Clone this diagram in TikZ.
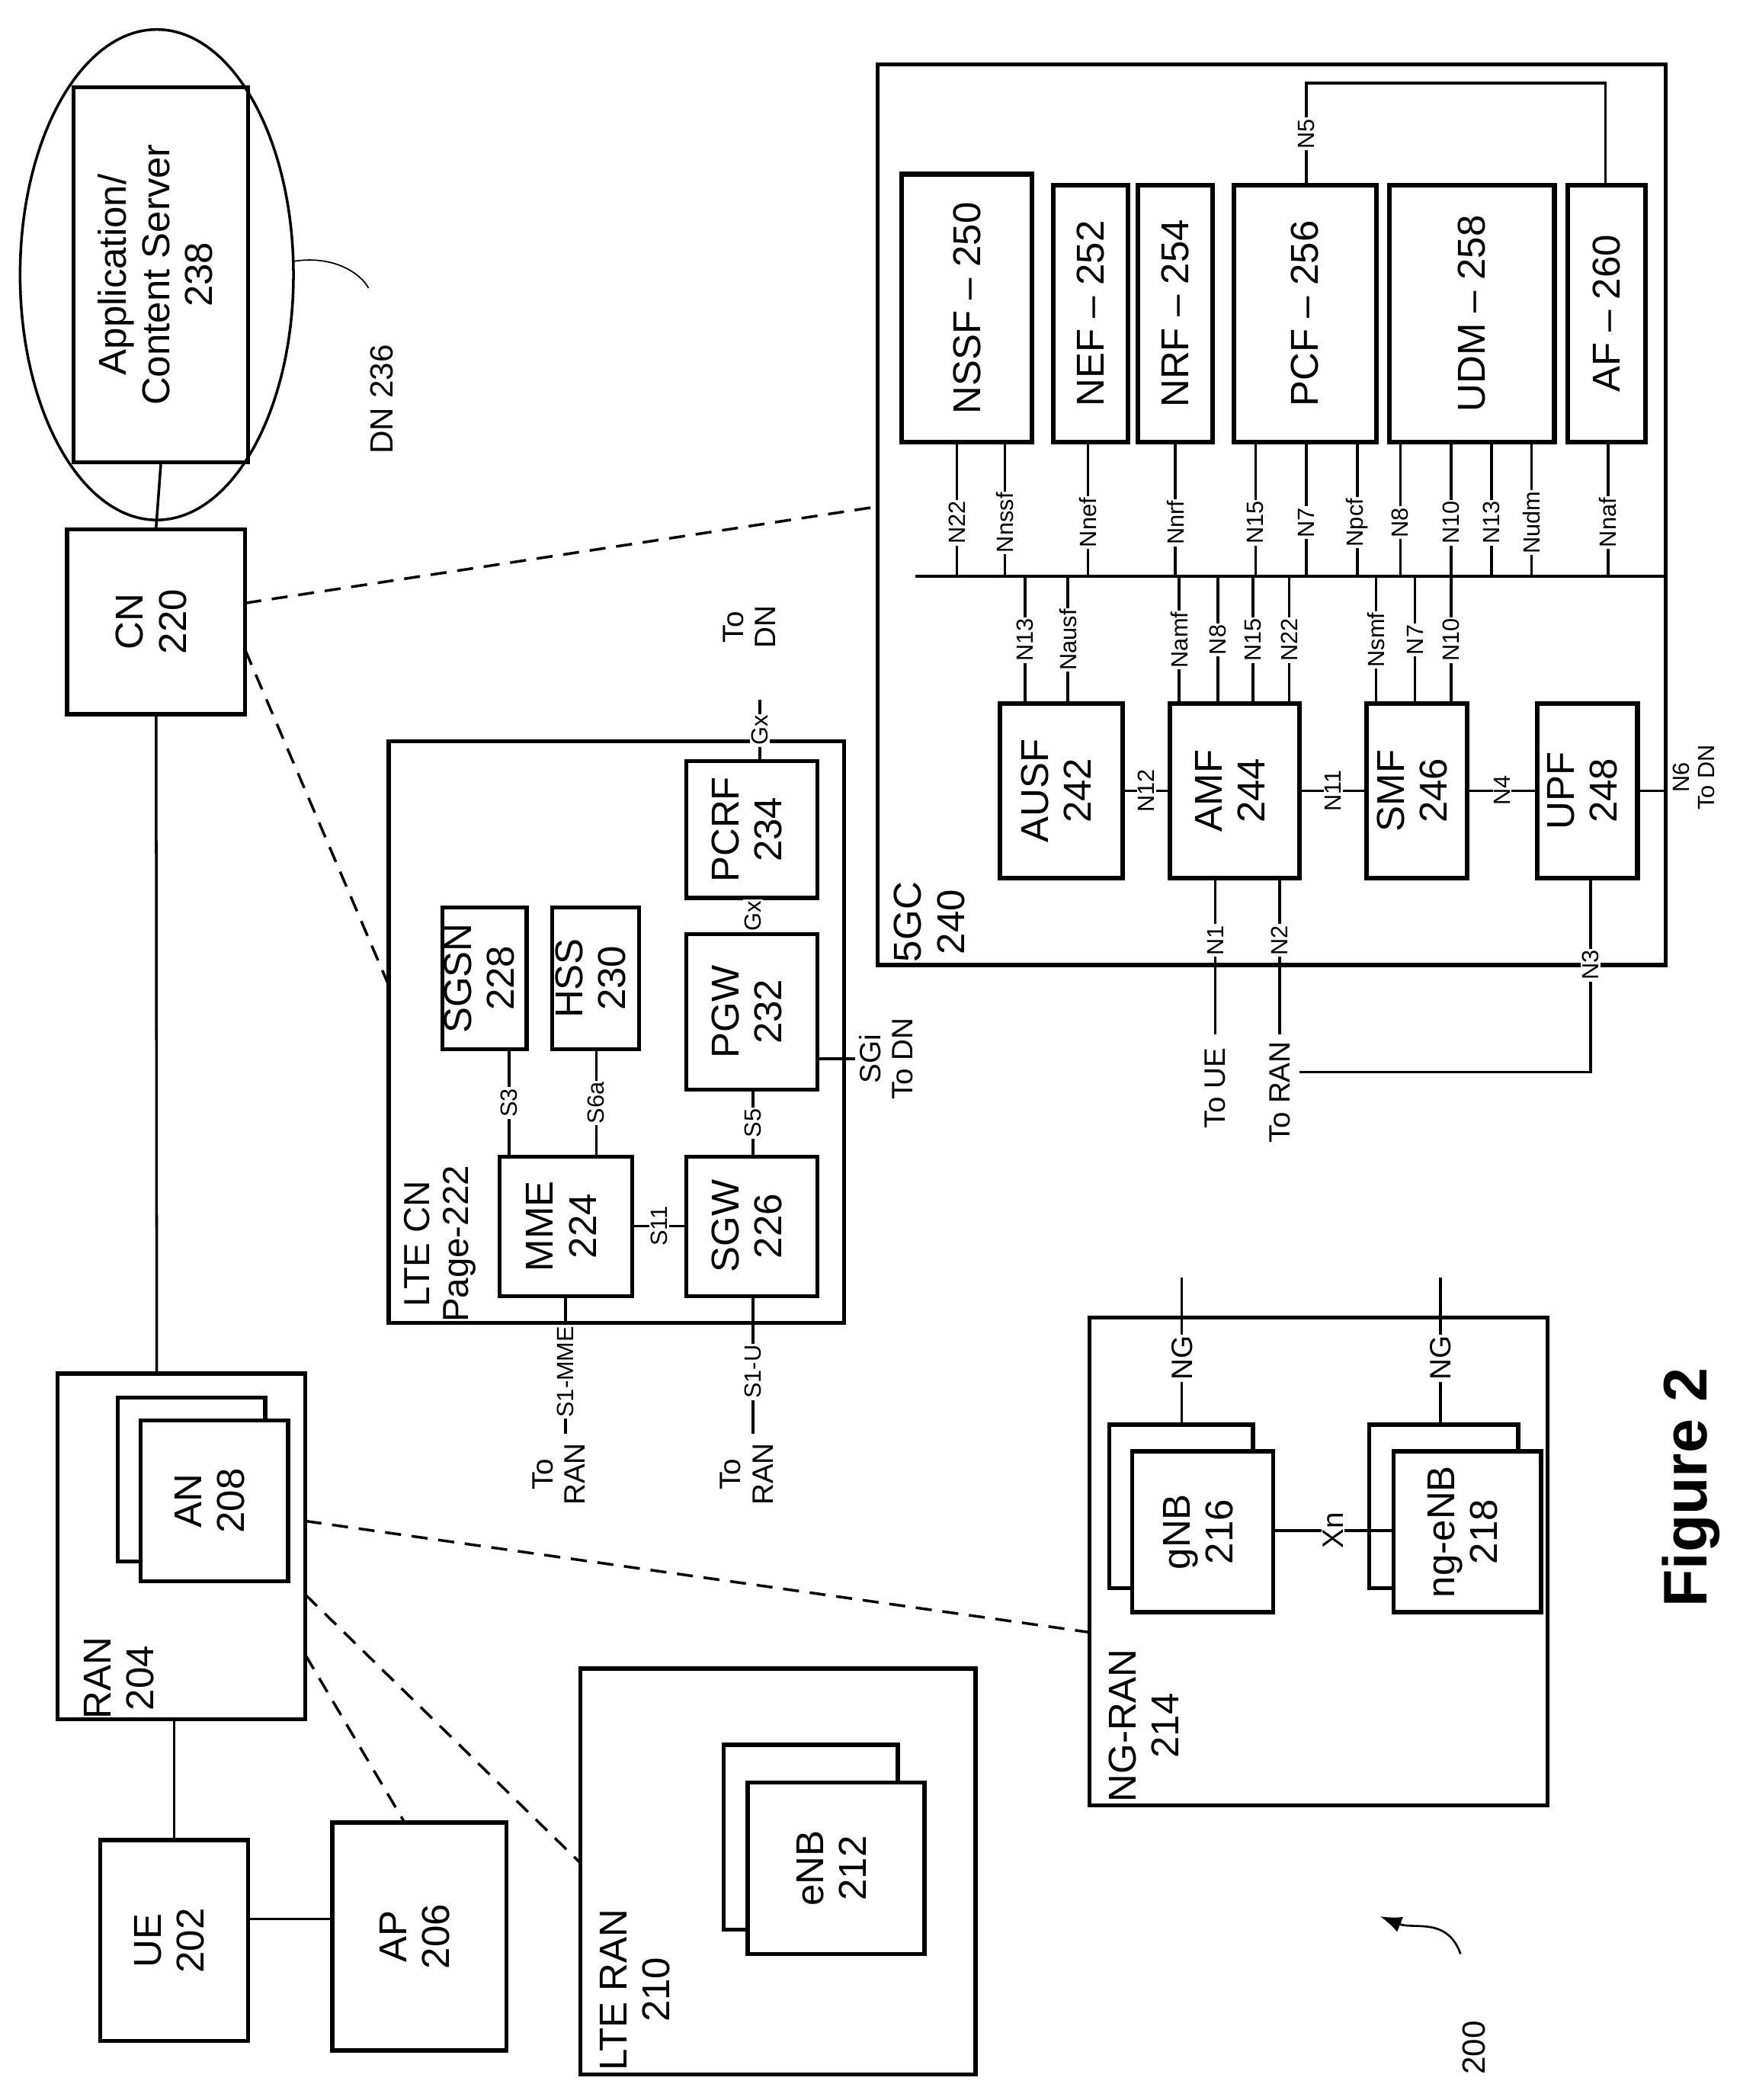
\documentclass[tikz,border=0pt]{standalone}
\usepackage{fontspec}
\setmainfont{Liberation Sans}
\usetikzlibrary{fit,arrows.meta}
\newcommand\fbig{\fontsize{29}{32}\selectfont}
\newcommand\fmed{\fontsize{22}{24}\selectfont}
\newcommand\fsm{\fontsize{17.5}{19}\selectfont}
\newcommand\rt[1]{\rotatebox{90}{\begin{tabular}{@{}c@{}}#1\end{tabular}}}
\newcommand\bx[5][box]{\node[#1,fit={(#3)(#4)}] (#2) {}; \node[inner sep=0pt,font=\fbig] at (#2.center) {#5};}
\begin{document}
\begin{tikzpicture}[x=1pt,y=-1pt,
 box/.style={draw,line width=3pt,inner sep=0pt},
 nf/.style={draw,line width=3.5pt,inner sep=0pt},
 ln/.style={line width=2pt},
 dsh/.style={line width=2pt,dash pattern=on 12pt off 8pt},
 ll/.style={fill=white,inner sep=1pt,font=\fsm},
 tx/.style={inner sep=0pt,font=\fmed}]
\useasboundingbox (0,0) rectangle (1310,1567);
\fill[white] (0,0) rectangle (1310,1567);
% DN
\draw[ln] (117,205) ellipse [x radius=102, y radius=183];
\bx{app}{55,65}{185,345}{\rt{Application/\\Content Server\\238}}
\draw[line width=1pt] (219,195) .. controls (250,190) and (270,205) .. (275,215);
\node[tx,font=\fontsize{24}{26}\selectfont] (dn) at (288,298) {\rt{DN 236}};
\bx{cn}{50,395}{183,533}{\rt{CN\\220}}
\draw[ln] (app.south) -- (cn.north);
% RAN
\node[box,fit={(43,1025)(228,1283)}] (ran) {};
\node[inner sep=0pt,font=\fbig,anchor=south west] at (60,1283) {\rt{RAN\\204}};
\draw[ln] (cn.south) -- (117,1025);
\node[box,fill=white,fit={(88,1043)(198,1165)}] (anb) {};
\bx[box,fill=white]{an}{105,1060}{215,1180}{\rt{AN\\208}}
\bx{ue}{75,1373}{185,1523}{\rt{UE\\202}}
\bx{ap}{248,1360}{378,1530}{\rt{AP\\206}}
\draw[ln] (130,1283) -- (130,1373);
\draw[ln] (185,1432) -- (248,1432);
\draw[dsh] (228,1235) -- (302,1360);
% LTE RAN
\node[box,fit={(433,1245)(728,1548)}] (lran) {};
\node[inner sep=0pt,font=\fbig,anchor=south west] at (445,1545) {\rt{LTE RAN\\210}};
\node[box,fill=white,fit={(540,1302)(670,1440)}] (enbb) {};
\bx[box,fill=white]{enb}{558,1330}{690,1458}{\rt{eNB\\212}}
\draw[dsh] (228,1190) -- (433,1390);
% NG RAN
\node[box,fit={(813,983)(1155,1347)}] (ngran) {};
\node[inner sep=0pt,font=\fbig,anchor=south west] at (825,1345) {\rt{NG-RAN\\214}};
\node[box,fill=white,fit={(828,1063)(935,1185)}] (gnbb) {};
\bx[box,fill=white]{gnb}{845,1083}{950,1203}{\rt{gNB\\216}}
\node[box,fill=white,fit={(1022,1063)(1133,1185)}] (ngeb) {};
\bx[box,fill=white]{nge}{1040,1083}{1150,1203}{\rt{ng-eNB\\218}}
\draw[ln] (950,1142) -- node[ll,font=\fmed]{\rotatebox{90}{Xn}} (1040,1142);
\draw[ln] (882,1063) -- node[ll,font=\fmed,pos=0.45]{\rotatebox{90}{NG}} (882,953);
\draw[ln] (1075,1063) -- node[ll,font=\fmed,pos=0.45]{\rotatebox{90}{NG}} (1075,953);
\draw[dsh] (228,1135) -- (813,1218);
\node[font=\fontsize{46}{50}\bfseries] at (1262,1110) {\rotatebox{90}{Figure 2}};
\node[tx,font=\fontsize{24}{26}\selectfont] at (1100,1528) {\rotatebox{90}{200}};
\draw[line width=1.5pt,-{Latex[length=16pt,width=12pt]}] (1090,1458) .. controls (1080,1430) and (1055,1440) .. (1030,1430);
% LTE CN
\node[box,fit={(290,553)(630,987)}] (ltecn) {};
\draw[dsh] (183,485) -- (290,735);
\node[inner sep=0pt,font=\fontsize{27}{29}\selectfont,anchor=south west] at (300,987) {\rt{LTE CN\\Page-222}};
\bx{sgsn}{330,677}{393,783}{\rt{SGSN\\228}}
\bx{hss}{412,677}{477,783}{\rt{HSS\\230}}
\bx{mme}{373,863}{472,967}{\rt{MME\\224}}
\bx{sgw}{512,863}{610,967}{\rt{SGW\\226}}
\bx{pgw}{512,697}{610,813}{\rt{PGW\\232}}
\bx{pcrf}{512,568}{610,670}{\rt{PCRF\\234}}
\draw[ln] (380,783) -- node[ll]{\rotatebox{90}{S3}} (380,863);
\draw[ln] (445,783) -- node[ll]{\rotatebox{90}{S6a}} (445,863);
\draw[ln] (472,915) -- node[ll]{\rotatebox{90}{S11}} (512,915);
\draw[ln] (562,813) -- node[ll]{\rotatebox{90}{S5}} (562,863);
\draw[ln] (562,670) -- node[ll]{\rotatebox{90}{Gx}} (562,697);
\draw[ln] (567,568) -- node[ll]{\rotatebox{90}{Gx}} (567,522);
\node[tx] at (562,468) {\rt{To\\DN}};
\draw[ln] (610,790) -- (638,790);
\node[tx,anchor=west] at (640,790) {\rt{SGi\\To DN}};
\draw[ln] (422,967) -- node[ll,pos=0.55]{\rotatebox{90}{S1-MME}} (422,1070);
\node[tx] at (420,1100) {\rt{To\\RAN}};
\draw[ln] (562,967) -- node[ll,pos=0.55]{\rotatebox{90}{S1-U}} (562,1070);
\node[tx] at (560,1100) {\rt{To\\RAN}};
% 5GC
\node[box,fit={(655,48)(1243,720)}] (fgc) {};
\draw[dsh] (183,450) -- (655,378);
\node[inner sep=0pt,font=\fbig,anchor=south west] at (665,718) {\rt{5GC\\240}};
\bx[nf]{nssf}{673,130}{770,330}{\rotatebox{90}{NSSF -- 250}}
\bx[nf]{nef}{786,138}{842,330}{\rotatebox{90}{NEF -- 252}}
\bx[nf]{nrf}{849,138}{905,330}{\rotatebox{90}{NRF -- 254}}
\bx[nf]{pcf}{921,138}{1027,330}{\rotatebox{90}{PCF -- 256}}
\bx[nf]{udm}{1037,138}{1160,330}{\rotatebox{90}{UDM -- 258}}
\bx[nf]{af}{1170,138}{1228,330}{\rotatebox{90}{AF -- 260}}
\bx[nf]{ausf}{746,525}{838,655}{\rt{AUSF\\242}}
\bx[nf]{amf}{873,525}{970,655}{\rt{AMF\\244}}
\bx[nf]{smf}{1020,525}{1095,655}{\rt{SMF\\246}}
\bx[nf]{upf}{1147,525}{1222,655}{\rt{UPF\\248}}
\draw[ln] (683,430) -- (1243,430);
\foreach \x/\t in {714/N22,750/Nnssf,812/Nnef,877/Nnrf,937/N15,975/N7,1013/Npcf,1045/N8,1083/N10,1113/N13,1143/Nudm,1200/Nnaf}
  \draw[ln] (\x,330) -- node[ll,pos=0.6]{\rotatebox{90}{\t}} (\x,430);
\foreach \x/\t in {765/N13,797/Nausf,880/Namf,909/N8,935/N15,962/N22,1027/Nsmf,1056/N7,1083/N10}
  \draw[ln] (\x,430) -- node[ll,pos=0.5]{\rotatebox{90}{\t}} (\x,525);
\draw[ln] (838,590) -- node[ll]{\rotatebox{90}{N12}} (873,590);
\draw[ln] (970,590) -- node[ll]{\rotatebox{90}{N11}} (1020,590);
\draw[ln] (1095,590) -- node[ll]{\rotatebox{90}{N4}} (1147,590);
\draw[ln] (1222,590) -- (1243,590);
\node[tx,font=\fsm,anchor=west] at (1247,580) {\rt{N6\\To DN}};
\draw[ln] (907,655) -- node[ll,pos=0.4]{\rotatebox{90}{N1}} (907,772);
\node[tx] at (907,812) {\rotatebox{90}{To UE}};
\draw[ln] (955,655) -- node[ll,pos=0.4]{\rotatebox{90}{N2}} (955,772);
\node[tx] at (955,815) {\rotatebox{90}{To RAN}};
\draw[ln] (1187,655) -- node[ll,pos=0.45]{\rotatebox{90}{N3}} (1187,800) -- (970,800);
\draw[ln] (975,138) -- node[ll,pos=0.5]{\rotatebox{90}{N5}} (975,62) -- (1198,62) -- (1198,138);
\end{tikzpicture}
\end{document}
